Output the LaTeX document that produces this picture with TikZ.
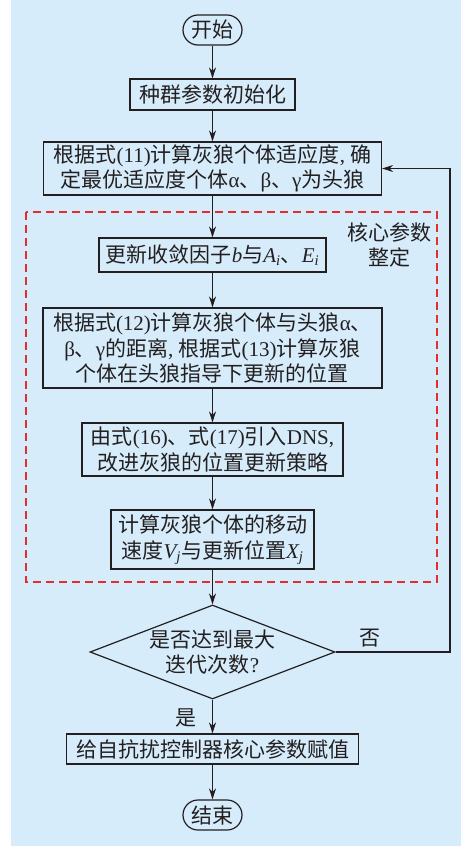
\documentclass[tikz,border=0pt]{standalone}
\usepackage{fontspec}
\setmainfont{Liberation Serif}
\newfontfamily\cjk{Noto Sans CJK SC}
\usetikzlibrary{arrows.meta,shapes.geometric}
\definecolor{bgblue}{RGB}{214,236,250}
\definecolor{dashred}{RGB}{230,45,45}
\definecolor{ink}{RGB}{35,31,32}
\newcommand\lt[1]{{\rmfamily #1}}
\newcommand\itl[1]{{\rmfamily\itshape #1}}
\tikzset{
  txt/.style={font=\cjk\fontsize{21}{25.5}\selectfont, text=ink, align=center, inner sep=0pt},
  box/.style={txt, draw=ink, line width=1.2pt, rectangle},
  term/.style={box, rounded corners=15pt, minimum width=59pt, minimum height=30pt},
  arr/.style={draw=ink, line width=1.2pt, -{Stealth[length=11pt,width=7pt]}},
  ln/.style={draw=ink, line width=1.2pt}
}
\begin{document}
\begin{tikzpicture}[x=1pt,y=-1pt]
\useasboundingbox (0,0) rectangle (461,846);
\fill[bgblue] (11,0) rectangle (461,846);
\draw[dashred, line width=1.1pt, dash pattern=on 8pt off 5pt] (26,212) rectangle (437,582);
\node[txt] (core) at (389,245) {核心参数\\整定};

\node[term] (start) at (212.5,30) {开始};
\node[box, minimum width=165pt, minimum height=31pt] (b2) at (212.5,94.5) {种群参数初始化};
\node[box, minimum width=338pt, minimum height=53pt] (b3) at (212.5,168.5)
  {根据式\lt{(11)}计算灰狼个体适应度\lt{, }确\\定最优适应度个体\lt{α}、\lt{β}、\lt{γ}为头狼};
\node[box, minimum width=227pt, minimum height=34pt] (b4) at (212.5,255)
  {更新收敛因子\itl{b}与\itl{A}\textsubscript{\itl{i}}、\itl{E}\textsubscript{\itl{i}}};
\node[box, minimum width=339pt, minimum height=80pt] (b5) at (212.5,348)
  {根据式\lt{(12)}计算灰狼个体与头狼\lt{α}、\\\lt{β}、\lt{γ}的距离\lt{, }根据式\lt{(13)}计算灰狼\\个体在头狼指导下更新的位置};
\node[box, minimum width=261pt, minimum height=53pt] (b6) at (212.5,449.5)
  {由式\lt{(16)}、式\lt{(17)}引入\lt{DNS,}\\改进灰狼的位置更新策略};
\node[box, minimum width=203pt, minimum height=59pt] (b7) at (212.5,539.5)
  {计算灰狼个体的移动\\速度\itl{V}\textsubscript{\itl{j}}与更新位置\itl{X}\textsubscript{\itl{j}}};
\node[diamond, draw=ink, line width=1.2pt, inner sep=0pt, minimum width=245pt, minimum height=94pt] (dia) at (212.5,652) {};
\node[txt] (diatext) at (dia.center) {是否达到最大\\迭代次数\lt{?}};
\node[box, minimum width=292pt, minimum height=30pt] (b8) at (212.5,749) {给自抗扰控制器核心参数赋值};
\node[term] (end) at (212.5,815) {结束};

\node[txt] (no) at (370,638) {否};
\node[txt] (yes) at (186,718) {是};

\draw[arr] (start) -- (b2);
\draw[arr] (b2) -- (b3);
\draw[arr] (b3) -- (b4);
\draw[arr] (b4) -- (b5);
\draw[arr] (b5) -- (b6);
\draw[arr] (b6) -- (b7);
\draw[arr] (b7) -- (dia);
\draw[arr] (dia) -- (b8);
\draw[arr] (b8) -- (end);
\coordinate (fb) at (450,652);
\draw[arr] (dia.east) -- (fb) |- (b3.east);
\end{tikzpicture}
\end{document}
